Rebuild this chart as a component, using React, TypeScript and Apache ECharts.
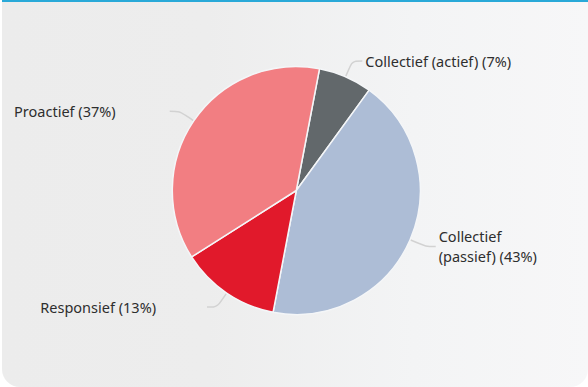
import React, { useEffect, useRef } from "react";
import * as echarts from "echarts";

const categories = ["Collectief (actief)", "Collectief (passief)", "Responsief", "Proactief"];
const values = [7, 43, 13, 37];
const colors = ["#62686b", "#adbdd6", "#e1192b", "#f27e82"];

export default function App() {
  const ref = useRef<HTMLDivElement>(null);
  useEffect(() => {
    if (!ref.current) return;
    const chart = echarts.init(ref.current, null, { renderer: "svg" });
    const labelPads: Record<string, number[]> = {
      "Collectief (actief)": [0, 0, 8, 0],
      "Collectief (passief)": [8, 0, 0, 0],
      Responsief: [0, 48, 6, 0],
      Proactief: [0, 51, 8, 0],
    };
    chart.setOption({
      animation: false,
      backgroundColor: "transparent",
      series: [
        {
          type: "pie",
          center: [296.3, 190.5],
          radius: 124,
          startAngle: 79.2,
          clockwise: true,
          avoidLabelOverlap: false,
          itemStyle: { borderColor: "#f4f6f8", borderWidth: 1.5 },
          label: {
            show: true,
            color: "#2e2e2e",
            fontFamily: "Noto Sans",
            fontSize: 14.5,
            lineHeight: 20,
            distanceToLabelLine: 3,
            formatter: (p: any) =>
              p.name === "Collectief (passief)"
                ? "Collectief\n(passief) (" + p.value + "%)"
                : p.name + " (" + p.value + "%)",
          },
          labelLine: {
            show: true,
            length: 17,
            length2: 10,
            smooth: 0.3,
            lineStyle: { color: "#d2d2d2", width: 1.5 },
          },
          data: categories.map((c, i) => ({
            name: c,
            value: values[i],
            itemStyle: { color: colors[i] },
            label: { padding: labelPads[c] },
          })),
        },
      ],
    });
    return () => chart.dispose();
  }, []);
  return (
    <div
      style={{
        position: "fixed",
        left: 0,
        top: 0,
        width: 588,
        height: 387,
        background: "#ffffff",
      }}
    >
      <div
        style={{
          position: "absolute",
          left: 2,
          top: 0,
          width: 586,
          height: 385,
          borderTop: "2px solid #29a9d8",
          borderBottomLeftRadius: 18,
          borderBottomRightRadius: 18,
          background: "linear-gradient(to right, #ececec 0%, #ededed 35%, #f3f4f5 70%, #f7f7f8 100%)",
        }}
      />
      <div ref={ref} style={{ position: "absolute", left: 0, top: 0, width: 588, height: 387 }} />
    </div>
  );
}
